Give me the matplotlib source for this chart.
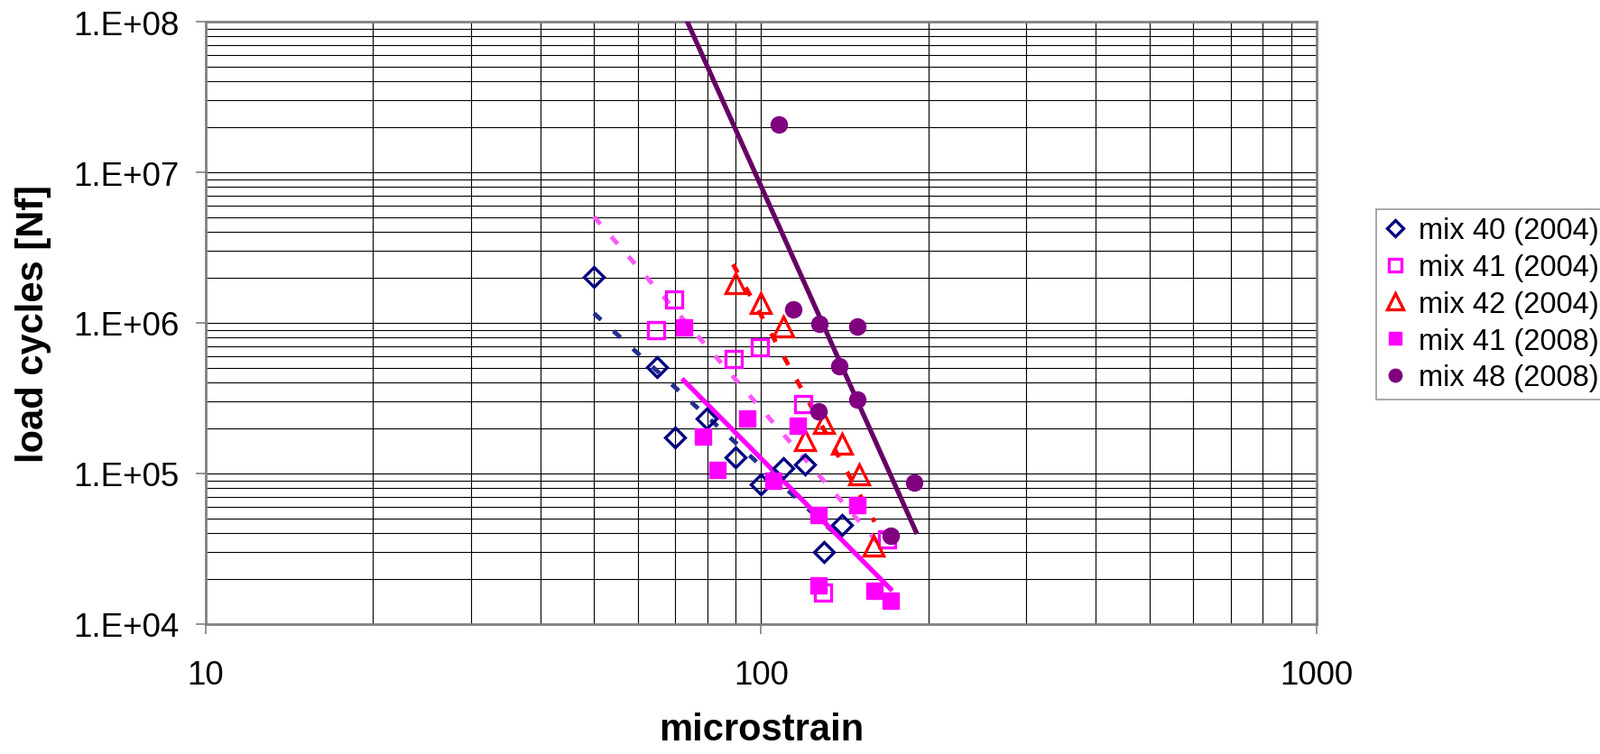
import numpy as np
import matplotlib
matplotlib.use("Agg")
import matplotlib.pyplot as plt
from matplotlib.ticker import LogLocator, FuncFormatter, NullFormatter

plt.rcParams['font.family'] = ['Liberation Sans', 'DejaVu Sans']

# fatigue data (microstrain, load cycles)
mix40_x = [50.0, 64.9, 79.8, 70.0, 89.9, 109.7, 119.8, 99.7, 139.9, 129.8]
mix40_y = [2.01e6, 5.07e5, 2.32e5, 1.74e5, 1.29e5, 1.08e5, 1.14e5, 8.5e4, 4.57e4, 3.0e4]

mix41a_x = [69.6, 64.6, 89.3, 99.4, 119.0, 129.4, 168.7]
mix41a_y = [1.44e6, 9.0e5, 5.75e5, 6.9e5, 2.88e5, 1.61e4, 3.64e4]

mix42_x = [89.9, 99.9, 109.7, 129.8, 119.8, 139.9, 149.9, 159.5]
mix42_y = [1.83e6, 1.35e6, 9.4e5, 2.16e5, 1.66e5, 1.57e5, 9.9e4, 3.32e4]

mix41b_x = [72.5, 94.5, 78.6, 116.4, 83.4, 105.1, 148.9, 127.0, 127.0, 159.9, 170.8]
mix41b_y = [9.3e5, 2.32e5, 1.76e5, 2.07e5, 1.05e5, 9.0e4, 6.17e4, 5.28e4, 1.81e4, 1.67e4, 1.44e4]

mix48_x = [107.4, 114.3, 127.4, 148.9, 138.2, 148.9, 127.0, 188.7, 170.8]
mix48_y = [2.07e7, 1.23e6, 9.86e5, 9.51e5, 5.14e5, 3.08e5, 2.58e5, 8.7e4, 3.88e4]

labels = ["mix 40 (2004)", "mix 41 (2004)", "mix 42 (2004)", "mix 41 (2008)", "mix 48 (2008)"]
# x span of each power trendline (some are forecast backwards)
trend_lo = [50, 50, 89, 72.5, 70]
trend_hi = [140, 169, 160, 171, 190]

fig = plt.figure(figsize=(17.74, 8.37), dpi=100)
ax = fig.add_axes([228/1774, (837-693)/837, 1231/1774, 668/837])

series = [
    (mix40_x, mix40_y, dict(marker='D', ms=11.5, mfc='none', mec='#000080', mew=2.4)),
    (mix41a_x, mix41a_y, dict(marker='s', ms=12.5, mfc='none', mec='#FF00FF', mew=2.4)),
    (mix42_x, mix42_y, dict(marker='^', ms=16, mfc='none', mec='#FF0000', mew=2.4)),
    (mix41b_x, mix41b_y, dict(marker='s', ms=12.5, mfc='#FF00FF', mec='#FF00FF', mew=1)),
    (mix48_x, mix48_y, dict(marker='o', ms=13, mfc='#800080', mec='#800080', mew=1)),
]
trend_style = [
    dict(color='#232F8F', lw=3.5, ls=(0, (2.2, 3.8))),
    dict(color='#FF55FF', lw=3.5, ls=(0, (2.2, 3.8))),
    dict(color='#FF0000', lw=3.5, ls=(0, (2.2, 3.8))),
    dict(color='#FF00FF', lw=3.8, ls='-'),
    dict(color='#660066', lw=3.8, ls='-'),
]

handles = []
for (xs, ys, st), lo, hi, ts, lab in zip(series, trend_lo, trend_hi, trend_style, labels):
    xs = np.array(xs)
    ys = np.array(ys)
    # power trendline: linear fit in log-log space
    k, b = np.polyfit(np.log10(xs), np.log10(ys), 1)
    xt = np.logspace(np.log10(lo), np.log10(hi), 50)
    ax.plot(xt, 10**(k*np.log10(xt) + b), zorder=3, **ts)
    h, = ax.plot(xs, ys, ls='none', zorder=4, label=lab, **st)
    handles.append(h)

ax.set_xscale('log')
ax.set_yscale('log')
ax.set_xlim(10, 1000)
ax.set_ylim(1e4, 1e8)

ax.xaxis.set_major_locator(LogLocator(base=10, numticks=10))
ax.yaxis.set_major_locator(LogLocator(base=10, numticks=10))
ax.xaxis.set_minor_locator(LogLocator(base=10, subs=np.arange(2, 10), numticks=20))
ax.yaxis.set_minor_locator(LogLocator(base=10, subs=np.arange(2, 10), numticks=20))
ax.xaxis.set_minor_formatter(NullFormatter())
ax.yaxis.set_minor_formatter(NullFormatter())
ax.xaxis.set_major_formatter(FuncFormatter(lambda v, p: "%d" % round(v)))
ax.yaxis.set_major_formatter(FuncFormatter(lambda v, p: "1.E+%02d" % round(np.log10(v))))

ax.grid(True, which='both', color='black', lw=0.8, zorder=0)
ax.set_axisbelow(True)
ax.tick_params(which='major', direction='out', length=8, width=1.2, color='#808080',
               labelsize=26.5)
ax.tick_params(axis='y', pad=13)
ax.tick_params(axis='x', pad=20)
ax.tick_params(which='minor', length=0)
for s in ax.spines.values():
    s.set_color('#808080')
    s.set_linewidth(2)

ax.set_xlabel("microstrain", fontsize=30, fontweight='bold')
ax.set_ylabel("load cycles [Nf]", fontsize=30, fontweight='bold')
ax.xaxis.set_label_coords(0.5, -0.145)
ax.yaxis.set_label_coords(-0.139, 0.5)

leg = ax.legend(handles=handles, loc='upper left', bbox_to_anchor=(1.0536, 0.6886),
                borderaxespad=0, fontsize=23.5, frameon=True, fancybox=False,
                edgecolor='#808080', handlelength=0.8, handletextpad=0.4,
                labelspacing=0.3, borderpad=0.25, markerscale=0.8)
leg.get_frame().set_linewidth(1.2)

fig.savefig("out.png", dpi=100, facecolor='white')
